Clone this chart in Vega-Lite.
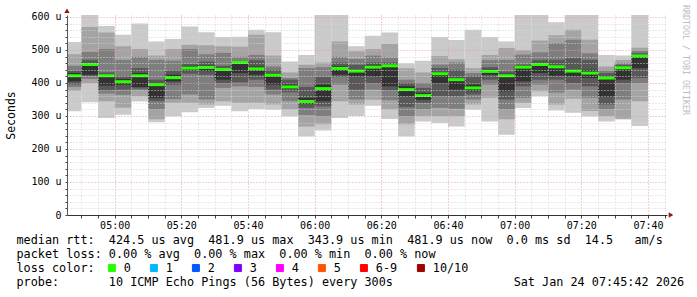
{
  "$schema": "https://vega.github.io/schema/vega-lite/v6.json",
  "width": 600,
  "height": 200,
  "autosize": {"type": "none"},
  "padding": {"left": 67, "top": 15, "right": 30, "bottom": 82},
  "background": "#ffffff",
  "config": {"view": {"stroke": null}, "font": "DejaVu Sans Mono"},
  "title": {
    "text": "RRDTOOL / TOBI OETIKER",
    "orient": "right",
    "anchor": "start",
    "frame": "group",
    "font": "DejaVu Sans Mono",
    "fontSize": 8.3,
    "fontWeight": "normal",
    "color": "#bdbdbd",
    "offset": -2,
    "dx": -10
  },
  "data": {
    "values": [
      {"s": "2026-01-24T04:45:00Z", "e": "2026-01-24T04:50:00Z", "p1": 314, "p2": 376, "p3": 388, "p4": 396, "p5": 405, "p6": 430, "p7": 437, "p8": 452, "p9": 487, "p10": 524, "med": 422, "loss": "0"},
      {"s": "2026-01-24T04:50:00Z", "e": "2026-01-24T04:55:00Z", "p1": 342, "p2": 400, "p3": 412, "p4": 422, "p5": 425, "p6": 458, "p7": 470, "p8": 494, "p9": 570, "p10": 640, "med": 456, "loss": "0"},
      {"s": "2026-01-24T04:55:00Z", "e": "2026-01-24T05:00:00Z", "p1": 294, "p2": 345, "p3": 368, "p4": 378, "p5": 392, "p6": 424, "p7": 432, "p8": 503, "p9": 553, "p10": 573, "med": 422, "loss": "0"},
      {"s": "2026-01-24T05:00:00Z", "e": "2026-01-24T05:05:00Z", "p1": 304, "p2": 325, "p3": 364, "p4": 380, "p5": 395, "p6": 412, "p7": 420, "p8": 470, "p9": 511, "p10": 546, "med": 404, "loss": "0"},
      {"s": "2026-01-24T05:05:00Z", "e": "2026-01-24T05:10:00Z", "p1": 344, "p2": 360, "p3": 378, "p4": 383, "p5": 388, "p6": 430, "p7": 445, "p8": 479, "p9": 503, "p10": 580, "med": 422, "loss": "0"},
      {"s": "2026-01-24T05:10:00Z", "e": "2026-01-24T05:15:00Z", "p1": 281, "p2": 290, "p3": 320, "p4": 345, "p5": 354, "p6": 400, "p7": 410, "p8": 470, "p9": 483, "p10": 526, "med": 395, "loss": "0"},
      {"s": "2026-01-24T05:15:00Z", "e": "2026-01-24T05:20:00Z", "p1": 299, "p2": 340, "p3": 351, "p4": 395, "p5": 405, "p6": 425, "p7": 438, "p8": 468, "p9": 503, "p10": 533, "med": 416, "loss": "0"},
      {"s": "2026-01-24T05:20:00Z", "e": "2026-01-24T05:25:00Z", "p1": 311, "p2": 340, "p3": 365, "p4": 428, "p5": 438, "p6": 450, "p7": 458, "p8": 503, "p9": 516, "p10": 571, "med": 445, "loss": "0"},
      {"s": "2026-01-24T05:25:00Z", "e": "2026-01-24T05:30:00Z", "p1": 324, "p2": 335, "p3": 350, "p4": 425, "p5": 436, "p6": 452, "p7": 465, "p8": 487, "p9": 514, "p10": 554, "med": 447, "loss": "0"},
      {"s": "2026-01-24T05:30:00Z", "e": "2026-01-24T05:35:00Z", "p1": 331, "p2": 345, "p3": 385, "p4": 400, "p5": 410, "p6": 445, "p7": 452, "p8": 491, "p9": 511, "p10": 539, "med": 441, "loss": "0"},
      {"s": "2026-01-24T05:35:00Z", "e": "2026-01-24T05:40:00Z", "p1": 314, "p2": 340, "p3": 390, "p4": 402, "p5": 430, "p6": 462, "p7": 466, "p8": 479, "p9": 510, "p10": 540, "med": 462, "loss": "0"},
      {"s": "2026-01-24T05:40:00Z", "e": "2026-01-24T05:45:00Z", "p1": 321, "p2": 340, "p3": 388, "p4": 410, "p5": 425, "p6": 450, "p7": 469, "p8": 485, "p9": 546, "p10": 561, "med": 443, "loss": "0"},
      {"s": "2026-01-24T05:45:00Z", "e": "2026-01-24T05:50:00Z", "p1": 319, "p2": 335, "p3": 365, "p4": 380, "p5": 395, "p6": 430, "p7": 440, "p8": 450, "p9": 483, "p10": 554, "med": 424, "loss": "0"},
      {"s": "2026-01-24T05:50:00Z", "e": "2026-01-24T05:55:00Z", "p1": 299, "p2": 320, "p3": 345, "p4": 372, "p5": 382, "p6": 395, "p7": 410, "p8": 415, "p9": 432, "p10": 465, "med": 388, "loss": "0"},
      {"s": "2026-01-24T05:55:00Z", "e": "2026-01-24T06:00:00Z", "p1": 238, "p2": 268, "p3": 303, "p4": 325, "p5": 337, "p6": 355, "p7": 388, "p8": 445, "p9": 455, "p10": 485, "med": 343.9, "loss": "0"},
      {"s": "2026-01-24T06:00:00Z", "e": "2026-01-24T06:05:00Z", "p1": 256, "p2": 275, "p3": 300, "p4": 329, "p5": 345, "p6": 395, "p7": 418, "p8": 448, "p9": 462, "p10": 640, "med": 383, "loss": "0"},
      {"s": "2026-01-24T06:05:00Z", "e": "2026-01-24T06:10:00Z", "p1": 294, "p2": 345, "p3": 395, "p4": 418, "p5": 425, "p6": 450, "p7": 462, "p8": 479, "p9": 526, "p10": 640, "med": 444, "loss": "0"},
      {"s": "2026-01-24T06:10:00Z", "e": "2026-01-24T06:15:00Z", "p1": 300, "p2": 335, "p3": 350, "p4": 380, "p5": 420, "p6": 440, "p7": 455, "p8": 473, "p9": 496, "p10": 511, "med": 436, "loss": "0"},
      {"s": "2026-01-24T06:15:00Z", "e": "2026-01-24T06:20:00Z", "p1": 331, "p2": 349, "p3": 380, "p4": 400, "p5": 420, "p6": 455, "p7": 462, "p8": 483, "p9": 503, "p10": 543, "med": 448, "loss": "0"},
      {"s": "2026-01-24T06:20:00Z", "e": "2026-01-24T06:25:00Z", "p1": 291, "p2": 320, "p3": 348, "p4": 378, "p5": 390, "p6": 455, "p7": 462, "p8": 477, "p9": 518, "p10": 553, "med": 452, "loss": "0"},
      {"s": "2026-01-24T06:25:00Z", "e": "2026-01-24T06:30:00Z", "p1": 238, "p2": 275, "p3": 300, "p4": 327, "p5": 360, "p6": 390, "p7": 400, "p8": 410, "p9": 445, "p10": 460, "med": 380, "loss": "0"},
      {"s": "2026-01-24T06:30:00Z", "e": "2026-01-24T06:35:00Z", "p1": 283, "p2": 300, "p3": 320, "p4": 340, "p5": 349, "p6": 370, "p7": 385, "p8": 400, "p9": 432, "p10": 467, "med": 362, "loss": "0"},
      {"s": "2026-01-24T06:35:00Z", "e": "2026-01-24T06:40:00Z", "p1": 279, "p2": 300, "p3": 325, "p4": 360, "p5": 400, "p6": 432, "p7": 445, "p8": 456, "p9": 482, "p10": 539, "med": 428, "loss": "0"},
      {"s": "2026-01-24T06:40:00Z", "e": "2026-01-24T06:45:00Z", "p1": 268, "p2": 300, "p3": 322, "p4": 360, "p5": 380, "p6": 415, "p7": 440, "p8": 462, "p9": 472, "p10": 530, "med": 410, "loss": "0"},
      {"s": "2026-01-24T06:45:00Z", "e": "2026-01-24T06:50:00Z", "p1": 319, "p2": 335, "p3": 350, "p4": 365, "p5": 375, "p6": 395, "p7": 420, "p8": 430, "p9": 445, "p10": 561, "med": 385, "loss": "0"},
      {"s": "2026-01-24T06:50:00Z", "e": "2026-01-24T06:55:00Z", "p1": 283, "p2": 355, "p3": 395, "p4": 410, "p5": 425, "p6": 440, "p7": 448, "p8": 469, "p9": 485, "p10": 539, "med": 435, "loss": "0"},
      {"s": "2026-01-24T06:55:00Z", "e": "2026-01-24T07:00:00Z", "p1": 243, "p2": 290, "p3": 320, "p4": 350, "p5": 375, "p6": 428, "p7": 435, "p8": 470, "p9": 506, "p10": 526, "med": 422, "loss": "0"},
      {"s": "2026-01-24T07:00:00Z", "e": "2026-01-24T07:05:00Z", "p1": 324, "p2": 340, "p3": 355, "p4": 390, "p5": 405, "p6": 452, "p7": 456, "p8": 486, "p9": 499, "p10": 640, "med": 448, "loss": "0"},
      {"s": "2026-01-24T07:05:00Z", "e": "2026-01-24T07:10:00Z", "p1": 360, "p2": 375, "p3": 395, "p4": 410, "p5": 430, "p6": 458, "p7": 470, "p8": 493, "p9": 529, "p10": 640, "med": 456, "loss": "0"},
      {"s": "2026-01-24T07:10:00Z", "e": "2026-01-24T07:15:00Z", "p1": 317, "p2": 335, "p3": 371, "p4": 410, "p5": 422, "p6": 452, "p7": 470, "p8": 521, "p9": 545, "p10": 584, "med": 449, "loss": "0"},
      {"s": "2026-01-24T07:15:00Z", "e": "2026-01-24T07:20:00Z", "p1": 310, "p2": 352, "p3": 380, "p4": 400, "p5": 420, "p6": 440, "p7": 475, "p8": 531, "p9": 561, "p10": 640, "med": 436, "loss": "0"},
      {"s": "2026-01-24T07:20:00Z", "e": "2026-01-24T07:25:00Z", "p1": 299, "p2": 315, "p3": 355, "p4": 390, "p5": 415, "p6": 440, "p7": 470, "p8": 490, "p9": 531, "p10": 640, "med": 430, "loss": "0"},
      {"s": "2026-01-24T07:25:00Z", "e": "2026-01-24T07:30:00Z", "p1": 283, "p2": 300, "p3": 320, "p4": 335, "p5": 358, "p6": 420, "p7": 430, "p8": 438, "p9": 450, "p10": 485, "med": 415, "loss": "0"},
      {"s": "2026-01-24T07:30:00Z", "e": "2026-01-24T07:35:00Z", "p1": 289, "p2": 292, "p3": 350, "p4": 400, "p5": 410, "p6": 448, "p7": 455, "p8": 460, "p9": 470, "p10": 483, "med": 446, "loss": "0"},
      {"s": "2026-01-24T07:35:00Z", "e": "2026-01-24T07:40:00Z", "p1": 270, "p2": 345, "p3": 400, "p4": 415, "p5": 445, "p6": 478, "p7": 490, "p8": 497, "p9": 507, "p10": 640, "med": 481.9, "loss": "0"}
    ]
  },
  "encoding": {
    "x": {
      "field": "s", "type": "temporal",
      "scale": {"type": "utc", "domain": [1769229942000, 1769240742000], "nice": false},
      "axis": {
        "values": [1769230200000, 1769230500000, 1769230800000, 1769231100000, 1769231400000, 1769231700000, 1769232000000, 1769232300000, 1769232600000, 1769232900000, 1769233200000, 1769233500000, 1769233800000, 1769234100000, 1769234400000, 1769234700000, 1769235000000, 1769235300000, 1769235600000, 1769235900000, 1769236200000, 1769236500000, 1769236800000, 1769237100000, 1769237400000, 1769237700000, 1769238000000, 1769238300000, 1769238600000, 1769238900000, 1769239200000, 1769239500000, 1769239800000, 1769240100000, 1769240400000, 1769240700000],
        "labelExpr": "utcminutes(datum.value) % 20 === 0 ? utcFormat(datum.value, '%H:%M') : ''",
        "labelFont": "DejaVu Sans Mono", "labelFontSize": 10, "labelColor": "#000000",
        "labelOverlap": false, "labelFlush": false, "labelPadding": 2, "labelBaseline": "top",
        "tickSize": 3, "tickColor": "#444444", "domainColor": "#333333",
        "grid": true,
        "gridColor": {"condition": {"test": "utcminutes(datum.value) % 20 === 0", "value": "#e2a3a3"}, "value": "#d4d4d4"},
        "gridDash": [1, 2],
        "zindex": 1,
        "title": [
          "median rtt:\u00a0 424.5 us avg\u00a0 481.9 us max\u00a0 343.9 us min\u00a0 481.9 us now\u00a0 0.0 ms sd\u00a0 14.5\u00a0\u00a0 am/s",
          "packet loss: 0.00 % avg\u00a0 0.00 % max\u00a0 0.00 % min\u00a0 0.00 % now",
          "loss color:",
          "probe:\u00a0\u00a0\u00a0\u00a0\u00a0\u00a0 10 ICMP Echo Pings (56 Bytes) every 300s\u00a0\u00a0\u00a0\u00a0\u00a0\u00a0\u00a0\u00a0\u00a0\u00a0\u00a0\u00a0\u00a0\u00a0\u00a0\u00a0 Sat Jan 24 07:45:42 2026"
        ],
        "titleFont": "DejaVu Sans Mono", "titleFontSize": 11.8, "titleFontWeight": "normal", "titleColor": "#000000",
        "titleAlign": "left", "titleAnchor": "start", "titleBaseline": "top",
        "titleX": -51, "titleY": 19, "titleLineHeight": 14
      }
    },
    "x2": {"field": "e"}
  },
  "layer": [
    {
      "mark": {"type": "bar", "color": "#cacaca", "clip": true},
      "encoding": {
        "y": {"field": "p1", "type": "quantitative", "scale": {"domain": [0, 606], "nice": false, "zero": false},
          "axis": {"values": [0, 20, 40, 60, 80, 100, 120, 140, 160, 180, 200, 220, 240, 260, 280, 300, 320, 340, 360, 380, 400, 420, 440, 460, 480, 500, 520, 540, 560, 580, 600], "labelExpr": "datum.value % 100 === 0 ? (datum.value === 0 ? '0' : datum.value + ' u') : ''", "labelFont": "DejaVu Sans Mono", "labelFontSize": 10, "labelColor": "#000000", "labelPadding": 4, "tickSize": 2, "tickColor": "#444444", "domainColor": "#555555", "labelOverlap": false, "grid": true, "gridColor": {"condition": {"test": "datum.value % 100 === 0", "value": "#e2a3a3"}, "value": "#d4d4d4"}, "gridDash": [1, 2], "zindex": 1, "title": "Seconds", "titleFont": "DejaVu Sans Mono", "titleFontSize": 11.5, "titleFontWeight": "normal", "titleColor": "#000000", "titleX": -56, "titleY": 100, "titleAlign": "center", "titleBaseline": "middle"}},
        "y2": {"field": "p10"}
      }
    },
    {
      "mark": {"type": "bar", "color": "#a4a4a4", "clip": true},
      "encoding": {
        "y": {"field": "p2", "type": "quantitative", "scale": {"domain": [0, 606], "nice": false, "zero": false},
          "axis": {"values": [0, 20, 40, 60, 80, 100, 120, 140, 160, 180, 200, 220, 240, 260, 280, 300, 320, 340, 360, 380, 400, 420, 440, 460, 480, 500, 520, 540, 560, 580, 600], "labelExpr": "datum.value % 100 === 0 ? (datum.value === 0 ? '0' : datum.value + ' u') : ''", "labelFont": "DejaVu Sans Mono", "labelFontSize": 10, "labelColor": "#000000", "labelPadding": 4, "tickSize": 2, "tickColor": "#444444", "domainColor": "#555555", "labelOverlap": false, "grid": true, "gridColor": {"condition": {"test": "datum.value % 100 === 0", "value": "#e2a3a3"}, "value": "#d4d4d4"}, "gridDash": [1, 2], "zindex": 1, "title": "Seconds", "titleFont": "DejaVu Sans Mono", "titleFontSize": 11.5, "titleFontWeight": "normal", "titleColor": "#000000", "titleX": -56, "titleY": 100, "titleAlign": "center", "titleBaseline": "middle"}},
        "y2": {"field": "p9"}
      }
    },
    {
      "mark": {"type": "bar", "color": "#7e7e7e", "clip": true},
      "encoding": {
        "y": {"field": "p3", "type": "quantitative", "scale": {"domain": [0, 606], "nice": false, "zero": false},
          "axis": {"values": [0, 20, 40, 60, 80, 100, 120, 140, 160, 180, 200, 220, 240, 260, 280, 300, 320, 340, 360, 380, 400, 420, 440, 460, 480, 500, 520, 540, 560, 580, 600], "labelExpr": "datum.value % 100 === 0 ? (datum.value === 0 ? '0' : datum.value + ' u') : ''", "labelFont": "DejaVu Sans Mono", "labelFontSize": 10, "labelColor": "#000000", "labelPadding": 4, "tickSize": 2, "tickColor": "#444444", "domainColor": "#555555", "labelOverlap": false, "grid": true, "gridColor": {"condition": {"test": "datum.value % 100 === 0", "value": "#e2a3a3"}, "value": "#d4d4d4"}, "gridDash": [1, 2], "zindex": 1, "title": "Seconds", "titleFont": "DejaVu Sans Mono", "titleFontSize": 11.5, "titleFontWeight": "normal", "titleColor": "#000000", "titleX": -56, "titleY": 100, "titleAlign": "center", "titleBaseline": "middle"}},
        "y2": {"field": "p8"}
      }
    },
    {
      "mark": {"type": "bar", "color": "#585858", "clip": true},
      "encoding": {
        "y": {"field": "p4", "type": "quantitative", "scale": {"domain": [0, 606], "nice": false, "zero": false},
          "axis": {"values": [0, 20, 40, 60, 80, 100, 120, 140, 160, 180, 200, 220, 240, 260, 280, 300, 320, 340, 360, 380, 400, 420, 440, 460, 480, 500, 520, 540, 560, 580, 600], "labelExpr": "datum.value % 100 === 0 ? (datum.value === 0 ? '0' : datum.value + ' u') : ''", "labelFont": "DejaVu Sans Mono", "labelFontSize": 10, "labelColor": "#000000", "labelPadding": 4, "tickSize": 2, "tickColor": "#444444", "domainColor": "#555555", "labelOverlap": false, "grid": true, "gridColor": {"condition": {"test": "datum.value % 100 === 0", "value": "#e2a3a3"}, "value": "#d4d4d4"}, "gridDash": [1, 2], "zindex": 1, "title": "Seconds", "titleFont": "DejaVu Sans Mono", "titleFontSize": 11.5, "titleFontWeight": "normal", "titleColor": "#000000", "titleX": -56, "titleY": 100, "titleAlign": "center", "titleBaseline": "middle"}},
        "y2": {"field": "p7"}
      }
    },
    {
      "mark": {"type": "bar", "color": "#323232", "clip": true},
      "encoding": {
        "y": {"field": "p5", "type": "quantitative", "scale": {"domain": [0, 606], "nice": false, "zero": false},
          "axis": {"values": [0, 20, 40, 60, 80, 100, 120, 140, 160, 180, 200, 220, 240, 260, 280, 300, 320, 340, 360, 380, 400, 420, 440, 460, 480, 500, 520, 540, 560, 580, 600], "labelExpr": "datum.value % 100 === 0 ? (datum.value === 0 ? '0' : datum.value + ' u') : ''", "labelFont": "DejaVu Sans Mono", "labelFontSize": 10, "labelColor": "#000000", "labelPadding": 4, "tickSize": 2, "tickColor": "#444444", "domainColor": "#555555", "labelOverlap": false, "grid": true, "gridColor": {"condition": {"test": "datum.value % 100 === 0", "value": "#e2a3a3"}, "value": "#d4d4d4"}, "gridDash": [1, 2], "zindex": 1, "title": "Seconds", "titleFont": "DejaVu Sans Mono", "titleFontSize": 11.5, "titleFontWeight": "normal", "titleColor": "#000000", "titleX": -56, "titleY": 100, "titleAlign": "center", "titleBaseline": "middle"}},
        "y2": {"field": "p6"}
      }
    },
    {
      "mark": {"type": "line", "interpolate": "step-after", "color": "#202020", "strokeWidth": 1, "clip": true},
      "encoding": {
        "y": {"field": "med", "type": "quantitative", "scale": {"domain": [0, 606], "nice": false, "zero": false},
          "axis": {"values": [0, 20, 40, 60, 80, 100, 120, 140, 160, 180, 200, 220, 240, 260, 280, 300, 320, 340, 360, 380, 400, 420, 440, 460, 480, 500, 520, 540, 560, 580, 600], "labelExpr": "datum.value % 100 === 0 ? (datum.value === 0 ? '0' : datum.value + ' u') : ''", "labelFont": "DejaVu Sans Mono", "labelFontSize": 10, "labelColor": "#000000", "labelPadding": 4, "tickSize": 2, "tickColor": "#444444", "domainColor": "#555555", "labelOverlap": false, "grid": true, "gridColor": {"condition": {"test": "datum.value % 100 === 0", "value": "#e2a3a3"}, "value": "#d4d4d4"}, "gridDash": [1, 2], "zindex": 1, "title": "Seconds", "titleFont": "DejaVu Sans Mono", "titleFontSize": 11.5, "titleFontWeight": "normal", "titleColor": "#000000", "titleX": -56, "titleY": 100, "titleAlign": "center", "titleBaseline": "middle"}}
      }
    },
    {
      "mark": {"type": "rule", "strokeWidth": 3, "clip": true},
      "encoding": {
        "y": {"field": "med", "type": "quantitative", "scale": {"domain": [0, 606], "nice": false, "zero": false},
          "axis": {"values": [0, 20, 40, 60, 80, 100, 120, 140, 160, 180, 200, 220, 240, 260, 280, 300, 320, 340, 360, 380, 400, 420, 440, 460, 480, 500, 520, 540, 560, 580, 600], "labelExpr": "datum.value % 100 === 0 ? (datum.value === 0 ? '0' : datum.value + ' u') : ''", "labelFont": "DejaVu Sans Mono", "labelFontSize": 10, "labelColor": "#000000", "labelPadding": 4, "tickSize": 2, "tickColor": "#444444", "domainColor": "#555555", "labelOverlap": false, "grid": true, "gridColor": {"condition": {"test": "datum.value % 100 === 0", "value": "#e2a3a3"}, "value": "#d4d4d4"}, "gridDash": [1, 2], "zindex": 1, "title": "Seconds", "titleFont": "DejaVu Sans Mono", "titleFontSize": 11.5, "titleFontWeight": "normal", "titleColor": "#000000", "titleX": -56, "titleY": 100, "titleAlign": "center", "titleBaseline": "middle"}},
        "color": {
          "field": "loss", "type": "nominal",
          "scale": {"domain": ["0", "1", "2", "3", "4", "5", "6-9", "10/10"], "range": ["#26ff00", "#00b8ff", "#0059ff", "#7e00ff", "#ff00ff", "#ff5500", "#ff0000", "#a10000"]},
          "legend": {
            "orient": "none", "legendX": 39, "legendY": 247, "direction": "horizontal", "title": null,
            "symbolType": "square", "symbolSize": 49, "symbolStrokeWidth": 1, "symbolStrokeColor": "#000000",
            "labelFont": "DejaVu Sans Mono", "labelFontSize": 11.8, "labelColor": "#000000",
            "labelOffset": 6, "columnPadding": 17, "padding": 0,
            "encode": {"symbols": {"update": {"fill": {"scale": "color", "field": "value"}, "stroke": {"value": "#000000"}, "strokeWidth": {"value": 1}, "opacity": {"value": 1}, "fillOpacity": {"value": 1}}}}
          }
        }
      }
    },
    {
      "data": {"values": [{"s": "2026-01-24T04:45:42Z", "v": 619}]},
      "mark": {"type": "point", "shape": "triangle-up", "size": 28, "filled": true, "color": "#8b1a1a", "opacity": 1},
      "encoding": {
        "x2": null,
        "y": {"field": "v", "type": "quantitative", "scale": {"domain": [0, 606], "nice": false, "zero": false},
          "axis": {"values": [0, 20, 40, 60, 80, 100, 120, 140, 160, 180, 200, 220, 240, 260, 280, 300, 320, 340, 360, 380, 400, 420, 440, 460, 480, 500, 520, 540, 560, 580, 600], "labelExpr": "datum.value % 100 === 0 ? (datum.value === 0 ? '0' : datum.value + ' u') : ''", "labelFont": "DejaVu Sans Mono", "labelFontSize": 10, "labelColor": "#000000", "labelPadding": 4, "tickSize": 2, "tickColor": "#444444", "domainColor": "#555555", "labelOverlap": false, "grid": true, "gridColor": {"condition": {"test": "datum.value % 100 === 0", "value": "#e2a3a3"}, "value": "#d4d4d4"}, "gridDash": [1, 2], "zindex": 1, "title": "Seconds", "titleFont": "DejaVu Sans Mono", "titleFontSize": 11.5, "titleFontWeight": "normal", "titleColor": "#000000", "titleX": -56, "titleY": 100, "titleAlign": "center", "titleBaseline": "middle"}}
      }
    },
    {
      "data": {"values": [{"s": "2026-01-24T07:46:54Z", "v": 0}]},
      "mark": {"type": "point", "shape": "triangle-right", "size": 28, "filled": true, "color": "#8b1a1a", "opacity": 1},
      "encoding": {
        "x2": null,
        "y": {"field": "v", "type": "quantitative", "scale": {"domain": [0, 606], "nice": false, "zero": false},
          "axis": {"values": [0, 20, 40, 60, 80, 100, 120, 140, 160, 180, 200, 220, 240, 260, 280, 300, 320, 340, 360, 380, 400, 420, 440, 460, 480, 500, 520, 540, 560, 580, 600], "labelExpr": "datum.value % 100 === 0 ? (datum.value === 0 ? '0' : datum.value + ' u') : ''", "labelFont": "DejaVu Sans Mono", "labelFontSize": 10, "labelColor": "#000000", "labelPadding": 4, "tickSize": 2, "tickColor": "#444444", "domainColor": "#555555", "labelOverlap": false, "grid": true, "gridColor": {"condition": {"test": "datum.value % 100 === 0", "value": "#e2a3a3"}, "value": "#d4d4d4"}, "gridDash": [1, 2], "zindex": 1, "title": "Seconds", "titleFont": "DejaVu Sans Mono", "titleFontSize": 11.5, "titleFontWeight": "normal", "titleColor": "#000000", "titleX": -56, "titleY": 100, "titleAlign": "center", "titleBaseline": "middle"}}
      }
    }
  ]
}
